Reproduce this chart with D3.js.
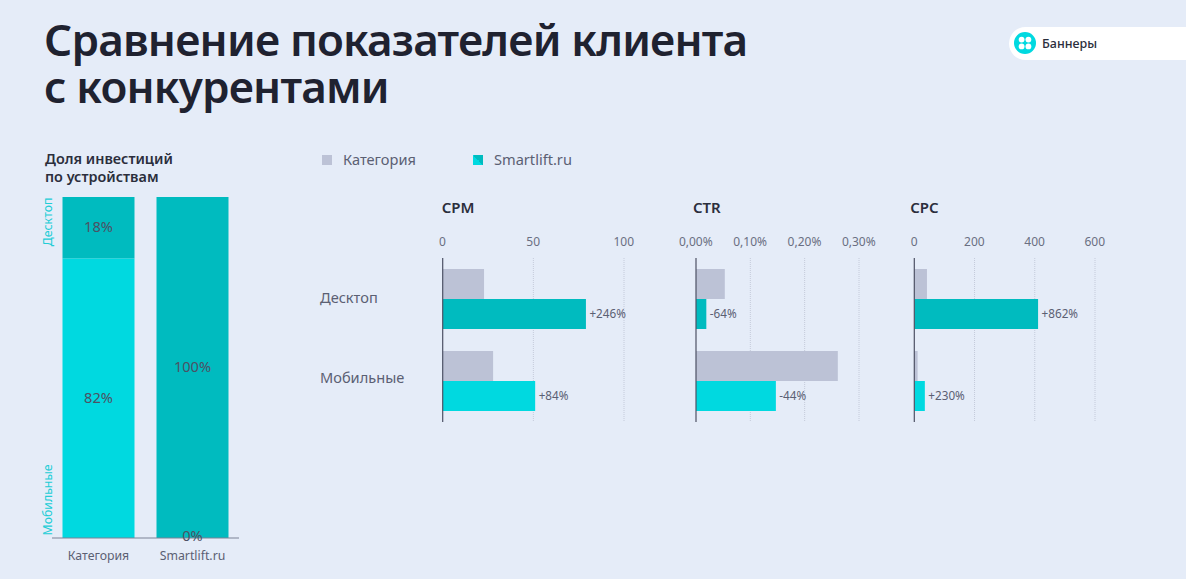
<!DOCTYPE html>
<html>
<head>
<meta charset="utf-8">
<script src="https://cdn.jsdelivr.net/npm/d3@7"></script>
<style>
html, body { margin: 0; padding: 0; background: #e5ecf8; overflow: hidden; }
text { font-family: "Noto Sans", sans-serif; }
.title { font-size: 44px; font-weight: 600; fill: #1f2230; letter-spacing: -0.8px; }
.subtitle { font-size: 14.4px; font-weight: 600; fill: #2b2e3c; }
.panel-title { font-size: 15px; font-weight: 600; fill: #2b2e3c; }
.label { font-size: 14.6px; fill: #5b6073; }
.small { font-size: 12.3px; fill: #5b6073; }
.delta { font-size: 11.7px; fill: #5b6073; }
.axis text { font-size: 12px; fill: #6a6f82; font-family: "Noto Sans", sans-serif; }
.axis path, .axis line { display: none; }
</style>
</head>
<body>
<script>

// left chart, share of investment
var shareCategories = ["Категория", "Smartlift.ru"];
var shareMobile = [82, 0];
var shareDesktop = [18, 100];

// right charts
var devices = ["Десктоп", "Мобильные"];
var seriesNames = ["Категория", "Smartlift.ru"];

var cpmCategory = [22.8, 27.8];
var cpmClient = [79, 51];
var cpmDelta = ["+246%", "+84%"];
var cpmTicks = [0, 50, 100];

var ctrCategory = [0.053, 0.261];
var ctrClient = [0.019, 0.147];
var ctrDelta = ["-64%", "-44%"];
var ctrTicks = [0, 0.1, 0.2, 0.3];

var cpcCategory = [42, 11];
var cpcClient = [411, 35];
var cpcDelta = ["+862%", "+230%"];
var cpcTicks = [0, 200, 400, 600];

var teal = "#00bbbf";
var cyan = "#00d9e0";
var grey = "#bcc2d6";
var dark = "#4c5164";

var svg = d3.select("body").append("svg")
    .attr("width", 1186)
    .attr("height", 579)
    .style("display", "block");

svg.append("rect")
    .attr("width", 1186)
    .attr("height", 579)
    .attr("fill", "#e5ecf8");

// header
var title = svg.append("text").attr("class", "title");
title.append("tspan").attr("x", 44).attr("y", 56).text("Сравнение показателей клиента");
title.append("tspan").attr("x", 44).attr("y", 103).text("с конкурентами");

// "Баннеры" pill
svg.append("rect")
    .attr("x", 1009).attr("y", 27)
    .attr("width", 200).attr("height", 33)
    .attr("rx", 16.5)
    .attr("fill", "#fff");
svg.append("circle").attr("cx", 1025).attr("cy", 43).attr("r", 11).attr("fill", cyan);
[[-3.4, -3.4], [3.4, -3.4], [-3.4, 3.4], [3.4, 3.4]].forEach(function(d) {
    svg.append("circle").attr("cx", 1025 + d[0]).attr("cy", 43 + d[1]).attr("r", 2.9).attr("fill", "#fff");
});
svg.append("text")
    .attr("x", 1042).attr("y", 47.5)
    .style("font-size", "12.5px").style("font-weight", 500).attr("fill", "#2b2e3c")
    .text("Баннеры");

// left stacked chart
var subtitle = svg.append("text").attr("class", "subtitle");
subtitle.append("tspan").attr("x", 45).attr("y", 164).text("Доля инвестиций");
subtitle.append("tspan").attr("x", 45).attr("y", 182).text("по устройствам");

var shareX = d3.scaleBand()
    .domain(shareCategories)
    .range([40.5, 250.5])
    .paddingInner(22 / 94)
    .paddingOuter(22 / 94);
var shareY = d3.scaleLinear().domain([0, 100]).range([538, 197]);

var shareRows = shareCategories.map(function(c, i) {
    return { name: c, mobile: shareMobile[i], desktop: shareDesktop[i] };
});
var stack = d3.stack().keys(["mobile", "desktop"])(shareRows);
var stackColor = { mobile: cyan, desktop: teal };

stack.forEach(function(layer) {
    svg.append("g").selectAll("rect")
        .data(layer)
        .enter()
        .append("rect")
        .attr("x", function(d) { return shareX(d.data.name); })
        .attr("y", function(d) { return shareY(d[1]); })
        .attr("width", shareX.bandwidth())
        .attr("height", function(d) { return shareY(d[0]) - shareY(d[1]); })
        .attr("fill", stackColor[layer.key]);
});

svg.append("line")
    .attr("x1", 52).attr("x2", 239)
    .attr("y1", 538).attr("y2", 538)
    .attr("stroke", "#7d8295").attr("stroke-width", 1.2);

// labels go after all the rects, otherwise 0% ends up under the bar
stack.forEach(function(layer) {
    svg.append("g").selectAll("text")
        .data(layer)
        .enter()
        .append("text")
        .attr("class", "label")
        .attr("x", function(d) { return shareX(d.data.name) + shareX.bandwidth() / 2; })
        .attr("y", function(d) { return Math.min(shareY((d[0] + d[1]) / 2) + 4.5, 541); })
        .attr("text-anchor", "middle")
        .style("fill", dark)
        .text(function(d) { return (d[1] - d[0]) + "%"; });
});

svg.selectAll(".share-name")
    .data(shareCategories)
    .enter()
    .append("text")
    .attr("class", "small")
    .attr("x", function(d) { return shareX(d) + shareX.bandwidth() / 2; })
    .attr("y", 560)
    .attr("text-anchor", "middle")
    .text(function(d) { return d; });

svg.append("text")
    .attr("transform", "translate(52,197.5) rotate(-90)")
    .attr("text-anchor", "end")
    .style("font-size", "12.3px").attr("fill", "#22cdd6")
    .text(devices[0]);
svg.append("text")
    .attr("transform", "translate(52,535.5) rotate(-90)")
    .style("font-size", "12.3px").attr("fill", "#22cdd6")
    .text(devices[1]);

// legend
var defs = svg.append("defs");
var grad = defs.append("linearGradient")
    .attr("id", "legendSplit")
    .attr("x1", "0").attr("y1", "1").attr("x2", "1").attr("y2", "0");
grad.append("stop").attr("offset", "50%").attr("stop-color", cyan);
grad.append("stop").attr("offset", "50%").attr("stop-color", teal);

var legendX = d3.scaleOrdinal().domain(seriesNames).range([322, 473]);
var legendFill = d3.scaleOrdinal().domain(seriesNames).range([grey, "url(#legendSplit)"]);

var legend = svg.selectAll(".legend")
    .data(seriesNames)
    .enter()
    .append("g")
    .attr("class", "legend")
    .attr("transform", function(d) { return "translate(" + legendX(d) + ",155)"; });
legend.append("rect")
    .attr("width", 10).attr("height", 10)
    .attr("fill", function(d) { return legendFill(d); });
legend.append("text")
    .attr("class", "label")
    .attr("x", 21).attr("y", 10)
    .text(function(d) { return d; });

// device names
var rowY = d3.scaleBand()
    .domain(devices)
    .range([258, 422])
    .paddingInner(22 / 82)
    .paddingOuter(11 / 82);

svg.selectAll(".device")
    .data(devices)
    .enter()
    .append("text")
    .attr("class", "label")
    .attr("x", 320)
    .attr("y", function(d, i) { return rowY(d) + (i == 0 ? 34 : 32); })
    .text(function(d) { return d; });

// one small bar chart
var drawPanel = function(opts) {

    var x = d3.scaleLinear()
        .domain([opts.ticks[0], opts.ticks[opts.ticks.length - 1]])
        .range([opts.left, opts.right]);

    var inner = d3.scaleBand().domain(seriesNames).range([0, rowY.bandwidth()]);

    var g = svg.append("g");

    g.append("text")
        .attr("class", "panel-title")
        .attr("x", opts.left + opts.titleDx)
        .attr("y", 212.5)
        .text(opts.title);

    g.append("g")
        .attr("class", "axis")
        .attr("transform", "translate(-0.7,246)")
        .call(d3.axisTop(x).tickValues(opts.ticks).tickSize(0).tickPadding(0).tickFormat(opts.format));

    g.selectAll(".grid")
        .data(opts.ticks.slice(1))
        .enter()
        .append("line")
        .attr("x1", function(d) { return x(d); })
        .attr("x2", function(d) { return x(d); })
        .attr("y1", 258).attr("y2", 422)
        .attr("stroke", "#c4cada")
        .attr("stroke-dasharray", "1,1");

    // grey bars
    g.selectAll(".bar-cat")
        .data(opts.category)
        .enter()
        .append("rect")
        .attr("x", x(0))
        .attr("y", function(d, i) { return rowY(devices[i]) + inner(seriesNames[0]); })
        .attr("width", function(d) { return x(d) - x(0); })
        .attr("height", inner.bandwidth())
        .attr("fill", grey);

    // client bars, desktop row is darker
    g.selectAll(".bar-client")
        .data(opts.client)
        .enter()
        .append("rect")
        .attr("x", x(0))
        .attr("y", function(d, i) { return rowY(devices[i]) + inner(seriesNames[1]); })
        .attr("width", function(d) { return x(d) - x(0); })
        .attr("height", inner.bandwidth())
        .attr("fill", function(d, i) { return i == 0 ? teal : cyan; });

    g.selectAll(".delta")
        .data(opts.client)
        .enter()
        .append("text")
        .attr("class", "delta")
        .attr("x", function(d) { return x(d) + 3.5; })
        .attr("y", function(d, i) { return rowY(devices[i]) + inner(seriesNames[1]) + inner.bandwidth() / 2 + 4; })
        .text(function(d, i) { return opts.delta[i]; });

    g.append("line")
        .attr("x1", x(0)).attr("x2", x(0))
        .attr("y1", 258).attr("y2", 422)
        .attr("stroke", "#4c5164").attr("stroke-width", 1.2);
};

drawPanel({
    title: "CPM", titleDx: -1, left: 442.7, right: 624,
    ticks: cpmTicks, category: cpmCategory, client: cpmClient, delta: cpmDelta,
    format: function(d) { return d; }
});
drawPanel({
    title: "CTR", titleDx: -3, left: 696, right: 859,
    ticks: ctrTicks, category: ctrCategory, client: ctrClient, delta: ctrDelta,
    format: function(d) { return d.toFixed(2).replace(".", ",") + "%"; }
});
drawPanel({
    title: "CPC", titleDx: -4, left: 914.3, right: 1095,
    ticks: cpcTicks, category: cpcCategory, client: cpcClient, delta: cpcDelta,
    format: function(d) { return d; }
});

</script>
</body>
</html>
